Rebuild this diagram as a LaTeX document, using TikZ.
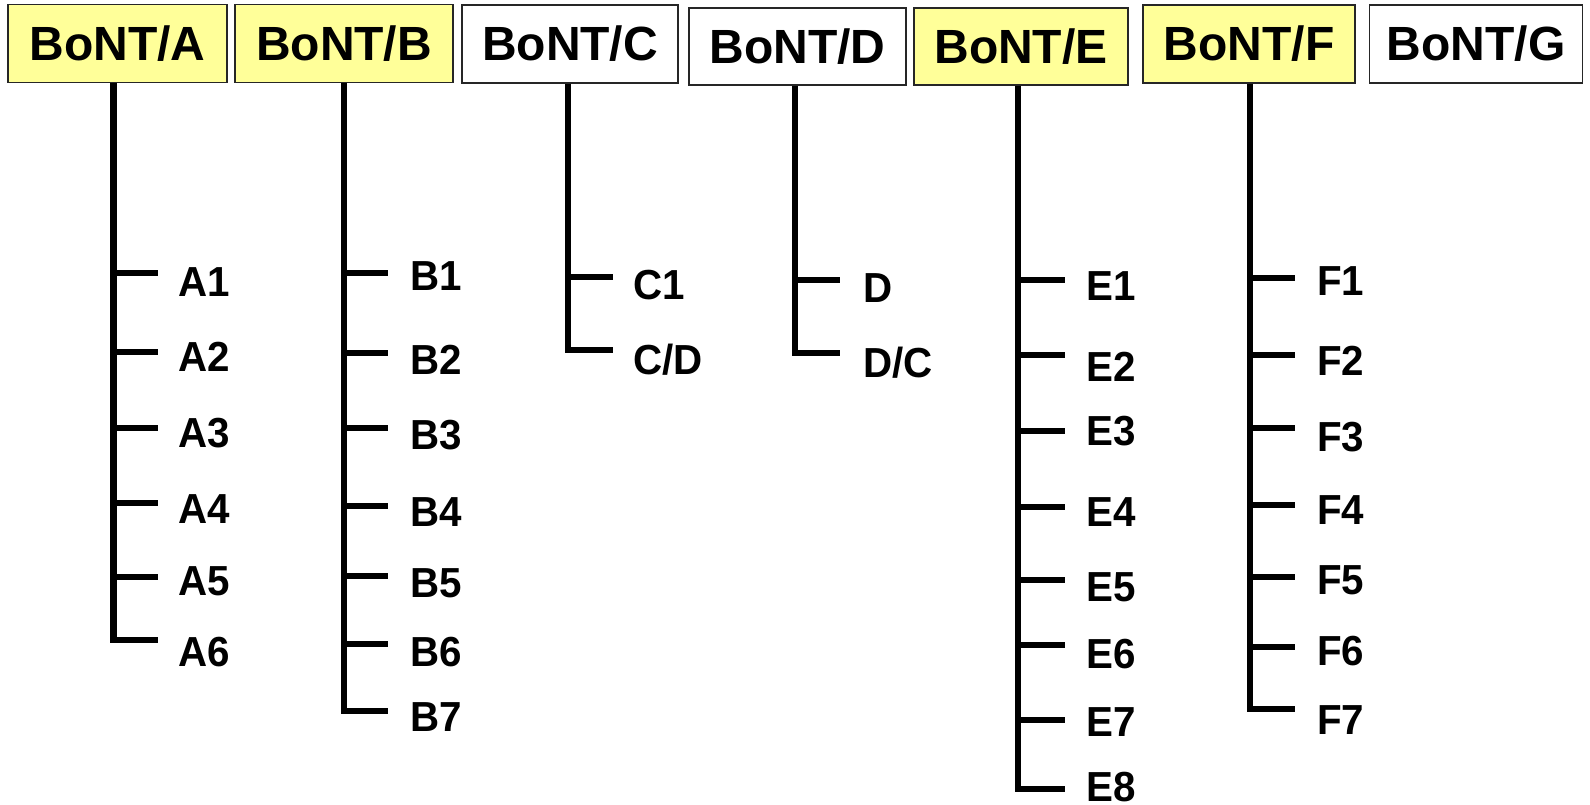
\documentclass[tikz,border=0pt]{standalone}
\usepackage{fontspec}
\setmainfont{Liberation Sans}
\newfontfamily\headfont{Liberation Sans}
\newfontfamily\subfont[FakeStretch=0.96]{Liberation Sans}
\definecolor{toxinyellow}{HTML}{FFFF99}

% column helpers: trunk x, tick end x, label x
\newcommand\setcol[3]{\def\colx{#1}\def\colend{#2}\def\collab{#3}}
% one subtype: node name, text, tick y, label y
\newcommand\leaf[4]{%
  \coordinate (t#1) at (\colx,#3);
  \coordinate (e#1) at (\colend,#3);
  \node[subtype] (#1) at (\collab,#4) {#2};
  \draw[branch] (t#1) -- (e#1);}

\begin{document}
\begin{tikzpicture}[x=1pt,y=-1pt,
  serotype/.style={draw=black!85, line width=1.3pt, inner sep=0pt,
    minimum height=78pt, font=\headfont\bfseries\fontsize{48}{48}\selectfont},
  highlighted/.style={serotype, fill=toxinyellow},
  plain/.style={serotype, fill=white},
  subtype/.style={anchor=west, inner sep=0pt,
    font=\subfont\bfseries\fontsize{42}{42}\selectfont},
  branch/.style={line width=6.8pt, line join=miter}]
\useasboundingbox (0,0) rectangle (1590,805);

% serotype boxes
\node[highlighted, minimum width=219pt] (bA) at (117.5,43.5) {BoNT/A};
\node[highlighted, minimum width=218pt] (bB) at (344,43.5) {BoNT/B};
\node[plain, minimum width=216pt] (bC) at (570,44) {BoNT/C};
\node[plain, minimum width=217pt, minimum height=77pt] (bD) at (797.5,46.5) {BoNT/D};
\node[highlighted, minimum width=214pt, minimum height=77pt] (bE) at (1021,46.5) {BoNT/E};
\node[highlighted, minimum width=212pt] (bF) at (1249,44) {BoNT/F};
\node[plain, minimum width=213pt] (bG) at (1476,44) {BoNT/G};

% BoNT/A subtypes
\setcol{113.5}{158}{178}
\leaf{A1}{A1}{273}{282}
\leaf{A2}{A2}{352}{357}
\leaf{A3}{A3}{428}{433}
\leaf{A4}{A4}{503}{509}
\leaf{A5}{A5}{577}{581}
\leaf{A6}{A6}{640}{652}
\draw[branch] (bA.south -| tA1) |- (eA6);

% BoNT/B subtypes
\setcol{344}{388}{410}
\leaf{B1}{B1}{273}{276}
\leaf{B2}{B2}{353}{360}
\leaf{B3}{B3}{428}{435}
\leaf{B4}{B4}{506}{512}
\leaf{B5}{B5}{576}{583}
\leaf{B6}{B6}{644}{652}
\leaf{B7}{B7}{711}{717}
\draw[branch] (bB.south -| tB1) |- (eB7);

% BoNT/C subtypes
\setcol{568}{613}{633}
\leaf{C1}{C1}{277}{285}
\leaf{CD}{C/D}{350}{360}
\draw[branch] (bC.south -| tC1) |- (eCD);

% BoNT/D subtypes
\setcol{795}{840}{863}
\leaf{D1}{D}{280}{288}
\leaf{DC}{D/C}{353}{363}
\draw[branch] (bD.south -| tD1) |- (eDC);

% BoNT/E subtypes
\setcol{1018}{1065}{1086}
\leaf{E1}{E1}{280}{286}
\leaf{E2}{E2}{355}{367}
\leaf{E3}{E3}{431}{431}
\leaf{E4}{E4}{507}{512}
\leaf{E5}{E5}{580}{587}
\leaf{E6}{E6}{645}{654}
\leaf{E7}{E7}{720}{722}
\leaf{E8}{E8}{789}{787}
\draw[branch] (bE.south -| tE1) |- (eE8);

% BoNT/F subtypes
\setcol{1250}{1295}{1317}
\leaf{F1}{F1}{278}{281}
\leaf{F2}{F2}{355}{361}
\leaf{F3}{F3}{428}{437}
\leaf{F4}{F4}{505}{510}
\leaf{F5}{F5}{577}{580}
\leaf{F6}{F6}{647}{651}
\leaf{F7}{F7}{709}{720}
\draw[branch] (bF.south -| tF1) |- (eF7);
\end{tikzpicture}
\end{document}
